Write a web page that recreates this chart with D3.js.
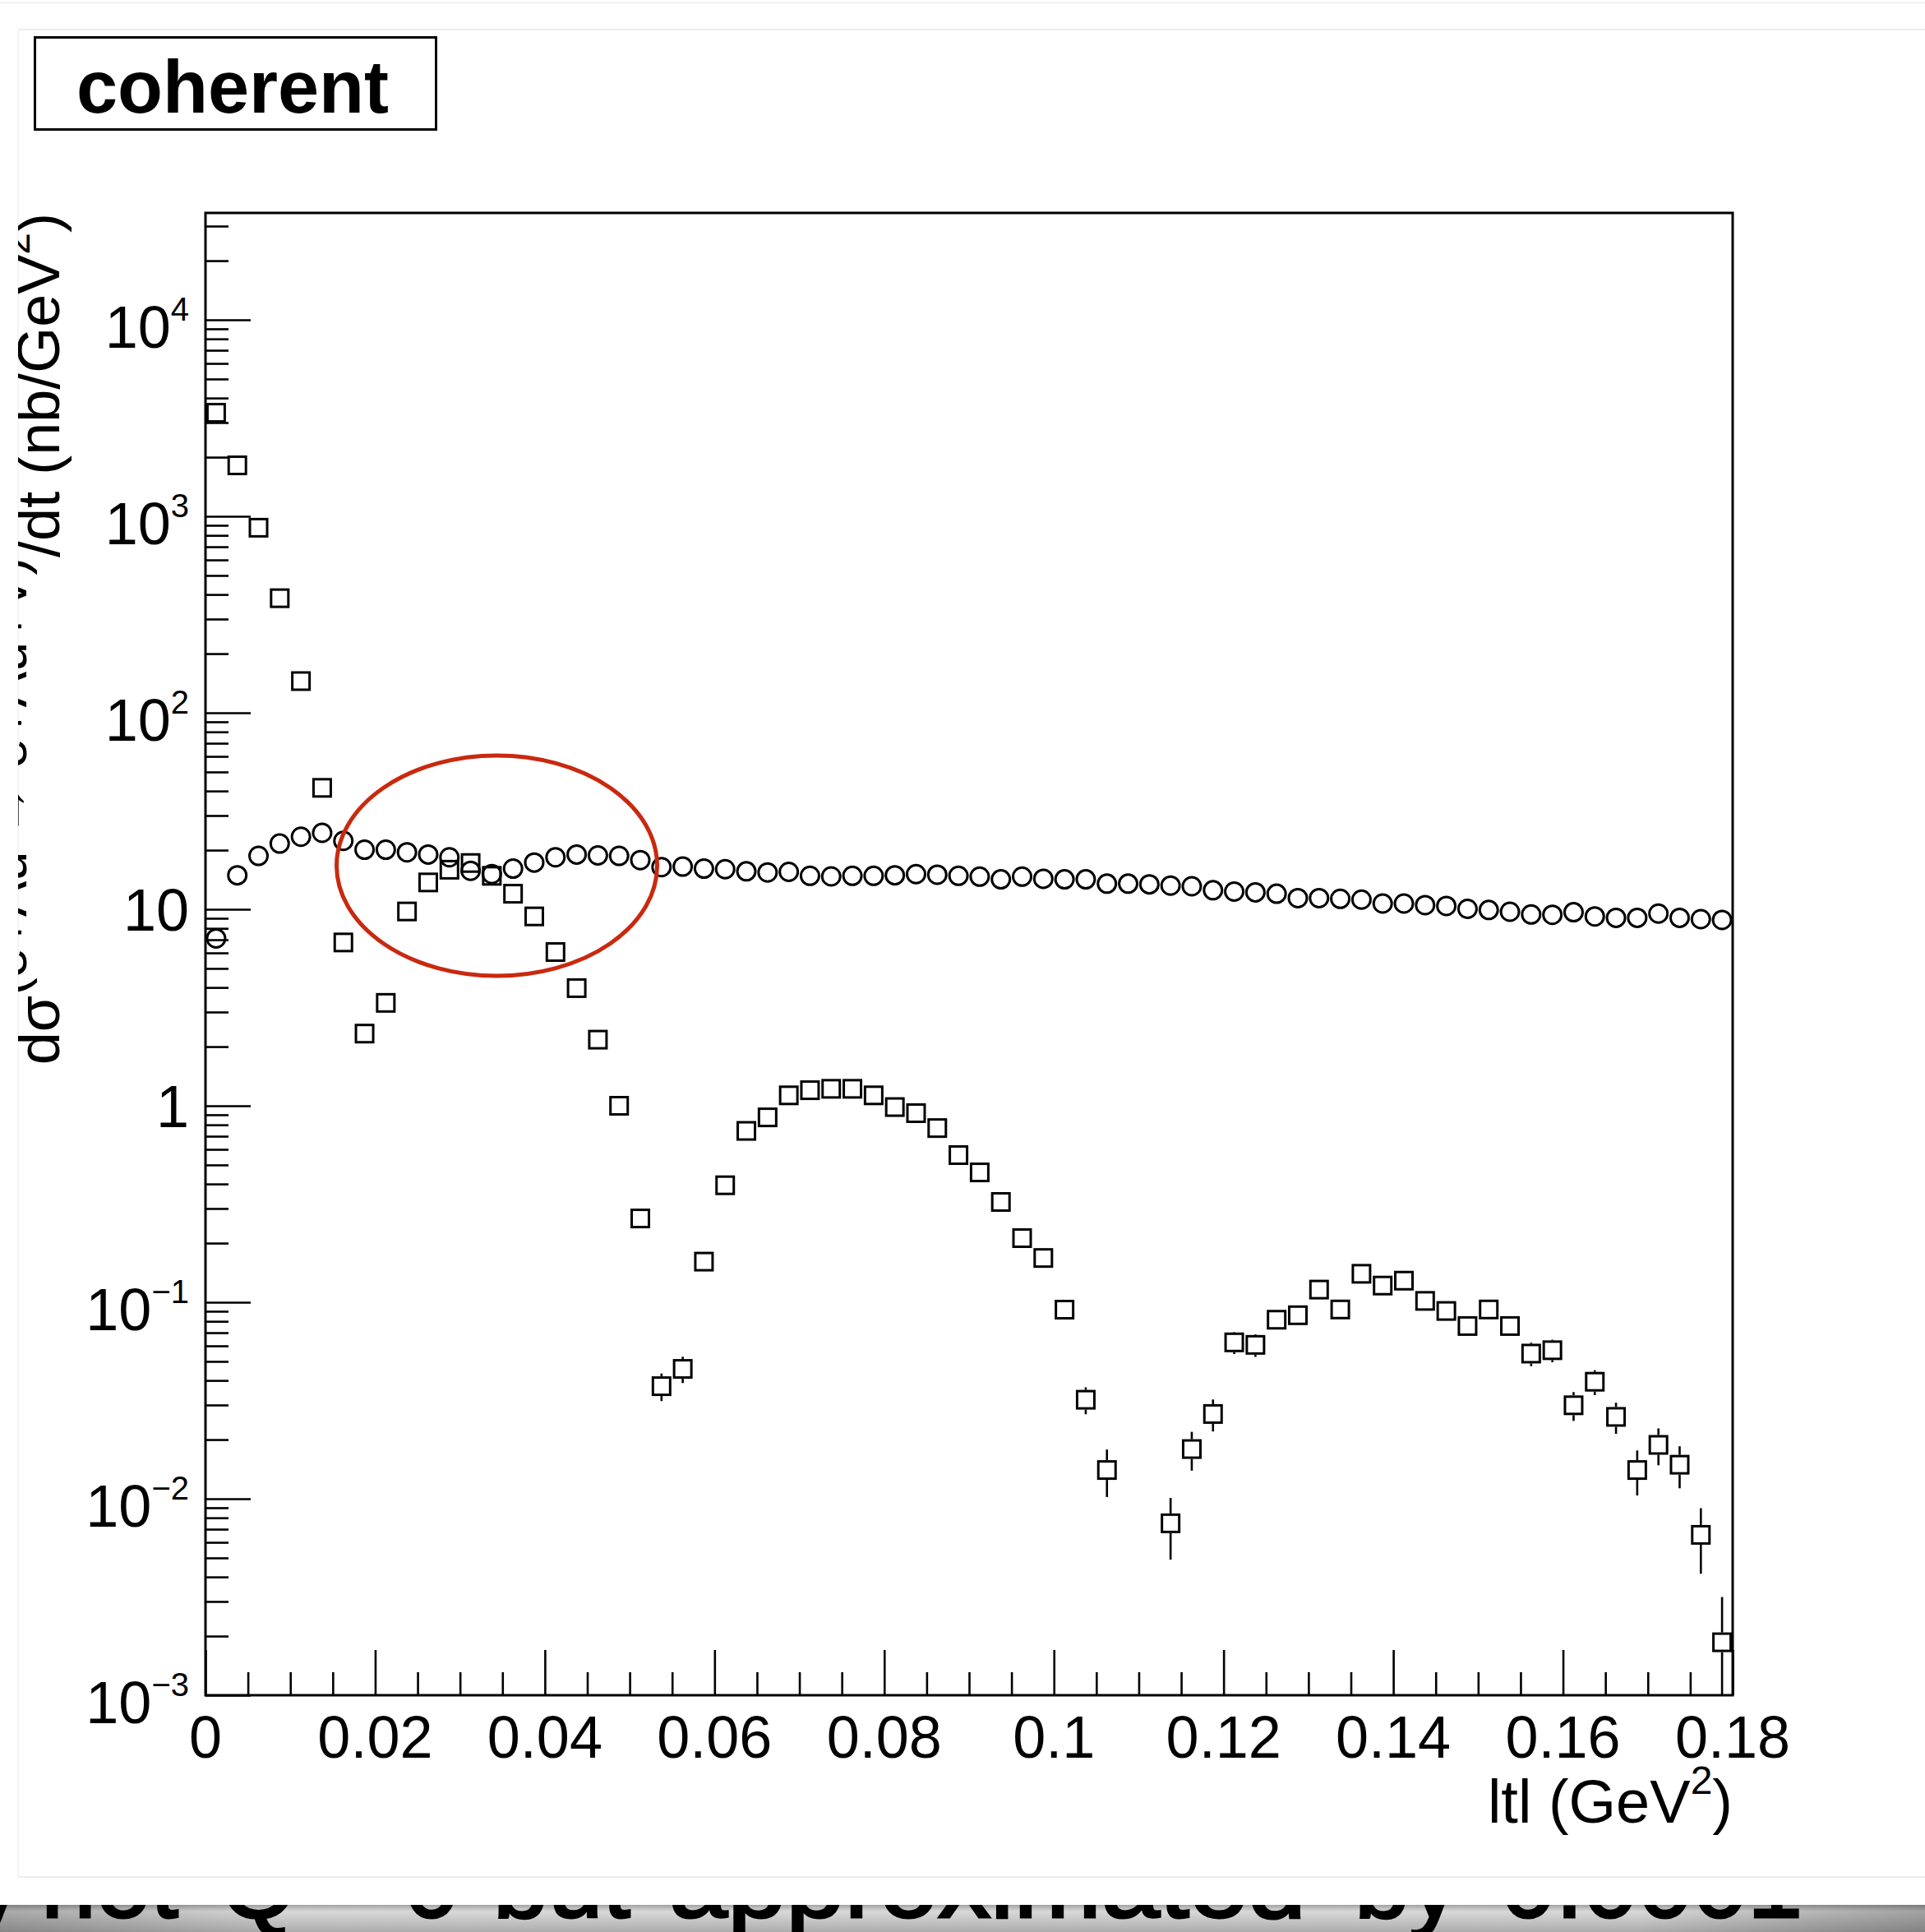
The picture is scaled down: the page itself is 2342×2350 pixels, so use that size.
<!DOCTYPE html>
<html><head><meta charset="utf-8">
<script src="https://cdn.jsdelivr.net/npm/d3@7"></script>
<style>html,body{margin:0;padding:0;background:#fff;} svg{display:block;}</style>
</head><body>
<script>
// ---------- data ----------
const binCenters = [0.00125,0.00375,0.00625,0.00875,0.01125,0.01375,0.01625,0.01875,0.02125,0.02375,
0.02625,0.02875,0.03125,0.03375,0.03625,0.03875,0.04125,0.04375,0.04625,0.04875,
0.05125,0.05375,0.05625,0.05875,0.06125,0.06375,0.06625,0.06875,0.07125,0.07375,
0.07625,0.07875,0.08125,0.08375,0.08625,0.08875,0.09125,0.09375,0.09625,0.09875,
0.10125,0.10375,0.10625,0.10875,0.11125,0.11375,0.11625,0.11875,0.12125,0.12375,
0.12625,0.12875,0.13125,0.13375,0.13625,0.13875,0.14125,0.14375,0.14625,0.14875,
0.15125,0.15375,0.15625,0.15875,0.16125,0.16375,0.16625,0.16875,0.17125,0.17375,
0.17625,0.17875];

// open squares
const squareValues = [3365,1817,875,383,145,41.5,6.78,2.33,3.34,9.75,
13.7,15.9,17.2,14.8,12.0,9.2,6.06,3.97,2.17,1.0,
0.267,0.0374,0.0458,0.161,0.394,0.745,0.873,1.13,1.2,1.22,
1.22,1.13,0.985,0.917,0.77,0.561,0.458,0.324,0.212,0.168,
0.0917,0.0319,0.0140,null,null,0.0075,0.0179,0.0270,0.0625,0.0607,
0.0815,0.0859,0.116,0.0919,0.1396,0.1216,0.1288,0.1016,0.0903,0.0757,
0.0919,0.0757,0.0548,0.0570,0.0299,0.0394,0.0261,0.0140,0.0188,0.0149,
0.00655,0.00186];
const squareErrors = [60,35,18,8,3,1,0.2,0.08,0.1,0.25,
0.3,0.35,0.35,0.3,0.3,0.25,0.2,0.12,0.08,0.04,
0.015,0.006,0.007,0.01,0.015,0.02,0.02,0.025,0.025,0.025,
0.025,0.025,0.02,0.02,0.02,0.015,0.015,0.012,0.01,0.009,
0.007,0.005,0.0038,null,null,0.0026,0.004,0.005,0.008,0.008,
0.007,0.007,0.008,0.007,0.009,0.008,0.008,0.007,0.007,0.006,
0.007,0.006,0.0075,0.0075,0.005,0.0057,0.0047,0.0036,0.004,0.0036,
0.0024,0.0013];

// open circles
const circleValues = [7.11,14.9,18.7,21.6,23.4,24.5,22.3,20.1,20.1,19.5,
19.0,18.4,15.7,15.1,16.1,17.3,18.4,19.0,18.8,18.7,
17.8,16.4,16.5,16.1,16.0,15.6,15.4,15.5,14.8,14.7,
14.8,14.8,14.9,15.1,15.0,14.8,14.66,14.2,14.66,14.3,
14.2,14.2,13.5,13.5,13.4,13.2,13.1,12.5,12.3,12.2,
12.0,11.4,11.4,11.3,11.2,10.7,10.7,10.5,10.4,10.05,
9.92,9.72,9.41,9.38,9.66,9.20,9.05,9.05,9.51,9.05,
8.91,8.83];

const xMajorTicks = [0,0.02,0.04,0.06,0.08,0.1,0.12,0.14,0.16,0.18];
const xTickLabels = ["0","0.02","0.04","0.06","0.08","0.1","0.12","0.14","0.16","0.18"];
const yMajorTicks = [1e-3,1e-2,1e-1,1,10,1e2,1e3,1e4];
const yTickBase = ["10","10","10","1","10","10","10","10"];
const yTickExp  = ["\u22123","\u22122","\u22121","","","2","3","4"];

const boxLabel = "coherent";
const bottomWords = [["y",-34],["not",50],["Q\u00B2",268],["=",420],["0",492],["but",600],["approximated",814],["by",1648],["0.0001",1826]];

// ---------- layout ----------
const W = 2342, H = 2350;
const FONT = "'Liberation Sans', Arial, Helvetica, sans-serif";
const svg = d3.select("body").append("svg").attr("width", W).attr("height", H)
  .style("font-family", FONT);
svg.append("rect").attr("width", W).attr("height", H).attr("fill", "#fff");

const defs = svg.append("defs");
defs.append("clipPath").attr("id","panel").append("rect")
  .attr("x",22).attr("y",36).attr("width",W-22).attr("height",2283-36);
defs.append("clipPath").attr("id","plotclip").append("rect")
  .attr("x",250).attr("y",259).attr("width",1858).attr("height",1803);
defs.append("clipPath").attr("id","strip").append("rect")
  .attr("x",0).attr("y",2317).attr("width",W).attr("height",H-2317);
const g1 = defs.append("linearGradient").attr("id","stripV").attr("x1",0).attr("y1",0).attr("x2",0).attr("y2",1);
g1.append("stop").attr("offset","0").attr("stop-color","#e6e6e6");
g1.append("stop").attr("offset","1").attr("stop-color","#adadad");
const g2 = defs.append("linearGradient").attr("id","stripH").attr("x1",0).attr("y1",0).attr("x2",1).attr("y2",0);
g2.append("stop").attr("offset","0").attr("stop-color","#000").attr("stop-opacity",0.22);
g2.append("stop").attr("offset","0.15").attr("stop-color","#000").attr("stop-opacity",0.0);
g2.append("stop").attr("offset","0.85").attr("stop-color","#000").attr("stop-opacity",0.0);
g2.append("stop").attr("offset","1").attr("stop-color","#000").attr("stop-opacity",0.25);
const g3 = defs.append("linearGradient").attr("id","shadow").attr("x1",0).attr("y1",0).attr("x2",0).attr("y2",1);
g3.append("stop").attr("offset","0").attr("stop-color","#000").attr("stop-opacity",0.3);
g3.append("stop").attr("offset","1").attr("stop-color","#000").attr("stop-opacity",0);

// faint slide lines
svg.append("line").attr("x1",0).attr("x2",W).attr("y1",3.5).attr("y2",3.5).attr("stroke","#f2f2f2").attr("stroke-width",2);
svg.append("line").attr("x1",22).attr("x2",W).attr("y1",36).attr("y2",36).attr("stroke","#ededed").attr("stroke-width",2);
svg.append("line").attr("x1",22).attr("x2",22).attr("y1",36).attr("y2",2283).attr("stroke","#f4f4f4").attr("stroke-width",2);
svg.append("line").attr("x1",22).attr("x2",W).attr("y1",2283).attr("y2",2283).attr("stroke","#ededed").attr("stroke-width",2);

// bottom strip (cut-off slide text)
const strip = svg.append("g").attr("clip-path","url(#strip)");
strip.append("rect").attr("x",0).attr("y",2317).attr("width",W).attr("height",H-2317).attr("fill","url(#stripV)");
strip.append("rect").attr("x",0).attr("y",2317).attr("width",W).attr("height",H-2317).attr("fill","url(#stripH)");
strip.selectAll("text.bw").data(bottomWords).join("text").attr("class","bw")
  .attr("x", d => d[1]).attr("y", 2332).attr("font-size", 120).attr("fill","#000")
  .attr("stroke","#000").attr("stroke-width",3)
  .attr("textLength", d => d[0] === "approximated" ? 775 : null)
  .attr("lengthAdjust", d => d[0] === "approximated" ? "spacingAndGlyphs" : null)
  .text(d => d[0]);
strip.append("rect").attr("x",0).attr("y",2317).attr("width",W).attr("height",8).attr("fill","url(#shadow)");

// chart panel
const panel = svg.append("g").attr("clip-path","url(#panel)");

const x = d3.scaleLinear().domain([0, 0.18]).range([250, 2108]);
const y = d3.scaleLog().domain([1e-3, 3.5e4]).range([2062, 259]);

// minor ticks
const xMinor = d3.range(0, 0.1801, 0.005).filter(v => !xMajorTicks.some(m => Math.abs(m - v) < 1e-9));
const yMinor = [];
[1e-3,1e-2,1e-1,1,10,100,1000,10000].forEach(dec => {
  for (let k = 2; k <= 9; k++) { const v = dec * k; if (v <= 3.5e4) yMinor.push(v); }
});

const xAxisMajor = d3.axisBottom(x).tickValues(xMajorTicks).tickSizeInner(-55).tickSizeOuter(0).tickFormat("");
const xAxisMinor = d3.axisBottom(x).tickValues(xMinor).tickSizeInner(-28).tickSizeOuter(0).tickFormat("");
const yAxisMajor = d3.axisLeft(y).tickValues(yMajorTicks).tickSizeInner(-55).tickSizeOuter(0).tickFormat("");
const yAxisMinor = d3.axisLeft(y).tickValues(yMinor).tickSizeInner(-28).tickSizeOuter(0).tickFormat("");

[[xAxisMajor,"x"],[xAxisMinor,"x"],[yAxisMajor,"y"],[yAxisMinor,"y"]].forEach(([ax, t]) => {
  const g = panel.append("g").attr("transform", t === "x" ? "translate(0,2062)" : "translate(250,0)").call(ax);
  g.select(".domain").remove();
  g.selectAll(".tick line").attr("stroke","#000").attr("stroke-width",2.6);
});

// frame
panel.append("rect").attr("x",250).attr("y",259).attr("width",1858).attr("height",1803)
  .attr("fill","none").attr("stroke","#000").attr("stroke-width",3);

// x tick labels
panel.selectAll("text.xl").data(xMajorTicks).join("text").attr("class","xl")
  .attr("x", d => x(d)).attr("y", 2138).attr("text-anchor","middle").attr("font-size",72)
  .text((d,i) => xTickLabels[i]);

// y tick labels
yMajorTicks.forEach((v, i) => {
  const t = panel.append("text").attr("x", 230).attr("text-anchor","end").attr("font-size",72)
    .attr("y", y(v) + (yTickExp[i] ? 34 : 26));
  t.append("tspan").text(yTickBase[i]);
  if (yTickExp[i]) t.append("tspan").attr("font-size",40).attr("dy",-33).text(yTickExp[i]);
});

// x title
const xt = panel.append("text").attr("x",2108).attr("y",2217).attr("text-anchor","end").attr("font-size",74);
xt.append("tspan").text("ltl (GeV");
xt.append("tspan").attr("font-size",48).attr("dy",-35).text("2");
xt.append("tspan").attr("dy",35).text(")");

// y title (rotated)
const yt = panel.append("text").attr("transform","translate(72,259) rotate(-90)")
  .attr("text-anchor","end").attr("font-size",72);
yt.append("tspan").text("d\u03C3");
yt.append("tspan").attr("font-size",65).attr("dy",-40).text("(e+Au \u2192 e+Au+V)");
yt.append("tspan").attr("dy",40).text("/dt (nb/GeV");
yt.append("tspan").attr("font-size",48).attr("dy",-36).text("2");
yt.append("tspan").attr("dy",36).text(")");

// data marks
const plot = panel.append("g").attr("clip-path","url(#plotclip)");
const SQ = 21, HALF = 12;
const sqData = binCenters.map((t,i) => ({t, v: squareValues[i], e: squareErrors[i]})).filter(d => d.v != null);

// error bars (outside the marker only)
sqData.forEach(d => {
  const cy = y(d.v), cx = x(d.t);
  const yTop = y(d.v + d.e);
  const yBot = (d.v - d.e) > 1e-3 ? y(d.v - d.e) : 2062;
  if (cy - yTop > HALF) plot.append("line").attr("x1",cx).attr("x2",cx).attr("y1",yTop).attr("y2",cy-HALF)
      .attr("stroke","#000").attr("stroke-width",2.6);
  if (yBot - cy > HALF) plot.append("line").attr("x1",cx).attr("x2",cx).attr("y1",cy+HALF).attr("y2",yBot)
      .attr("stroke","#000").attr("stroke-width",2.6);
});

plot.selectAll("rect.sq").data(sqData).join("rect").attr("class","sq")
  .attr("x", d => x(d.t) - SQ/2).attr("y", d => y(d.v) - SQ/2)
  .attr("width", SQ).attr("height", SQ)
  .attr("fill","none").attr("stroke","#000").attr("stroke-width",3);

const ciData = binCenters.map((t,i) => ({t, v: circleValues[i]}));
plot.selectAll("circle.ci").data(ciData).join("circle").attr("class","ci")
  .attr("cx", d => x(d.t)).attr("cy", d => y(d.v)).attr("r", 11)
  .attr("fill","none").attr("stroke","#000").attr("stroke-width",3);

// red ellipse annotation
panel.append("ellipse").attr("cx", 604.5).attr("cy", 1053).attr("rx", 195).attr("ry", 134)
  .attr("fill","none").attr("stroke","#c9290f").attr("stroke-width",5);

// label box
panel.append("rect").attr("x",42.5).attr("y",45.5).attr("width",488).attr("height",112)
  .attr("fill","#fff").attr("stroke","#000").attr("stroke-width",3);
panel.append("text").attr("x",283).attr("y",137).attr("text-anchor","middle")
  .attr("font-size",90).attr("font-weight","bold").text(boxLabel);
</script>
</body></html>
